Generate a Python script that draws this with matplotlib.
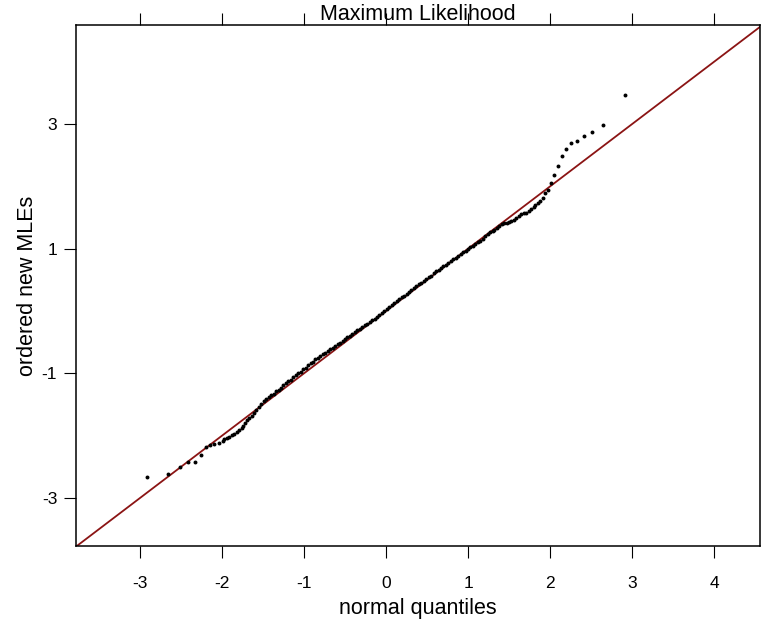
import matplotlib
matplotlib.use("Agg")
import matplotlib.pyplot as plt

# normal quantiles (x) and ordered new MLEs (y)
lower_x = [-2.92, -2.66, -2.51, -2.41, -2.33, -2.26, -2.20, -2.15, -2.10, -2.04,
           -1.99, -1.97, -1.94, -1.91, -1.88, -1.85, -1.82, -1.79, -1.76, -1.74,
           -1.72, -1.70]
lower_y = [-2.67, -2.62, -2.51, -2.43, -2.43, -2.31, -2.18, -2.15, -2.13, -2.11,
           -2.08, -2.06, -2.04, -2.02, -1.99, -1.97, -1.94, -1.91, -1.88, -1.84,
           -1.80, -1.75]

mid_x = [-1.67, -1.64, -1.61, -1.58, -1.55, -1.52, -1.49, -1.46, -1.43, -1.40,
         -1.37, -1.34, -1.31, -1.28, -1.25, -1.22, -1.19, -1.16, -1.13, -1.10,
         -1.07, -1.04, -1.01, -0.98, -0.95, -0.92, -0.89, -0.86, -0.83, -0.80,
         -0.77, -0.74, -0.71, -0.68, -0.65, -0.62, -0.59, -0.56, -0.53, -0.50,
         -0.47, -0.44, -0.41, -0.38, -0.35, -0.32, -0.29, -0.26, -0.23, -0.20,
         -0.17, -0.14, -0.11, -0.08, -0.05, -0.02, 0.01, 0.04, 0.07, 0.10,
         0.13, 0.16, 0.19, 0.22, 0.25, 0.28, 0.31, 0.34, 0.37, 0.40,
         0.43, 0.46, 0.49, 0.52, 0.55, 0.58, 0.61, 0.64, 0.67, 0.70,
         0.73, 0.76, 0.79, 0.82, 0.85, 0.88, 0.91, 0.94, 0.97, 1.00,
         1.03, 1.06, 1.09, 1.12, 1.15, 1.18, 1.21, 1.24, 1.27]
mid_y = [-1.72, -1.69, -1.64, -1.59, -1.54, -1.49, -1.45, -1.41, -1.38, -1.35,
         -1.33, -1.29, -1.26, -1.23, -1.19, -1.16, -1.13, -1.10, -1.06, -1.03,
         -1.00, -0.97, -0.93, -0.91, -0.87, -0.84, -0.81, -0.77, -0.75, -0.72,
         -0.69, -0.67, -0.64, -0.61, -0.59, -0.56, -0.53, -0.51, -0.48, -0.45,
         -0.42, -0.40, -0.37, -0.34, -0.31, -0.29, -0.26, -0.23, -0.20, -0.18,
         -0.15, -0.12, -0.09, -0.06, -0.03, 0.00, 0.03, 0.06, 0.10, 0.13,
         0.16, 0.19, 0.22, 0.24, 0.28, 0.31, 0.34, 0.37, 0.40, 0.43,
         0.45, 0.49, 0.52, 0.55, 0.57, 0.61, 0.64, 0.66, 0.69, 0.72,
         0.74, 0.77, 0.80, 0.83, 0.85, 0.88, 0.91, 0.94, 0.96, 0.99,
         1.02, 1.04, 1.07, 1.10, 1.13, 1.16, 1.20, 1.23, 1.27]

upper_x = [1.30, 1.32, 1.35, 1.38, 1.41, 1.44, 1.47, 1.50, 1.53, 1.56,
           1.59, 1.62, 1.65, 1.68, 1.71, 1.74, 1.77, 1.80, 1.82, 1.85,
           1.88, 1.91, 1.94, 1.97, 2.01, 2.05, 2.10, 2.14, 2.20, 2.26,
           2.33, 2.41, 2.51, 2.65, 2.91]
upper_y = [1.28, 1.30, 1.34, 1.37, 1.40, 1.41, 1.42, 1.43, 1.44, 1.46,
           1.49, 1.52, 1.55, 1.57, 1.58, 1.60, 1.63, 1.67, 1.70, 1.74,
           1.77, 1.82, 1.90, 1.94, 2.05, 2.18, 2.33, 2.48, 2.60, 2.69,
           2.73, 2.81, 2.88, 2.98, 3.47]

x_ticks = [-3, -2, -1, 0, 1, 2, 3, 4]
y_ticks = [-3, -1, 1, 3]
x_lim = (-3.78, 4.56)
y_lim = (-3.77, 4.59)

plt.rcParams['font.family'] = ['Liberation Sans', 'DejaVu Sans']

fig = plt.figure(figsize=(7.61, 6.27), dpi=100)
ax = fig.add_axes([76 / 761, 81 / 627, 684 / 761, 521 / 627])

qx = lower_x + mid_x + upper_x
qy = lower_y + mid_y + upper_y

# reference line y = x, corner to corner
ax.plot([-5, 5], [-5, 5], color='#8b1414', linewidth=1.3, zorder=2)
ax.scatter(qx, qy, s=8, color='black', linewidths=0, zorder=3)

ax.set_xlim(*x_lim)
ax.set_ylim(*y_lim)

ax.set_xticks(x_ticks)
ax.set_yticks(y_ticks)
ax.set_xticklabels([str(t) for t in x_ticks])
ax.set_yticklabels([str(t) for t in y_ticks])
ax.tick_params(axis='x', which='both', direction='out', length=8.5, width=0.8,
               top=True, labeltop=False, bottom=True, labelsize=12.5, pad=13)
ax.tick_params(axis='y', which='both', direction='out', length=8.5, width=0.8,
               right=False, left=True, labelsize=12.5, pad=5)

for sp in ax.spines.values():
    sp.set_linewidth(1.1)

ax.set_xlabel('normal quantiles', fontsize=15.5, labelpad=5)
ax.set_ylabel('ordered new MLEs', fontsize=15.5, labelpad=3)
ax.set_title('Maximum Likelihood', fontsize=15.5, pad=-4)

fig.savefig('out.png', dpi=100)
